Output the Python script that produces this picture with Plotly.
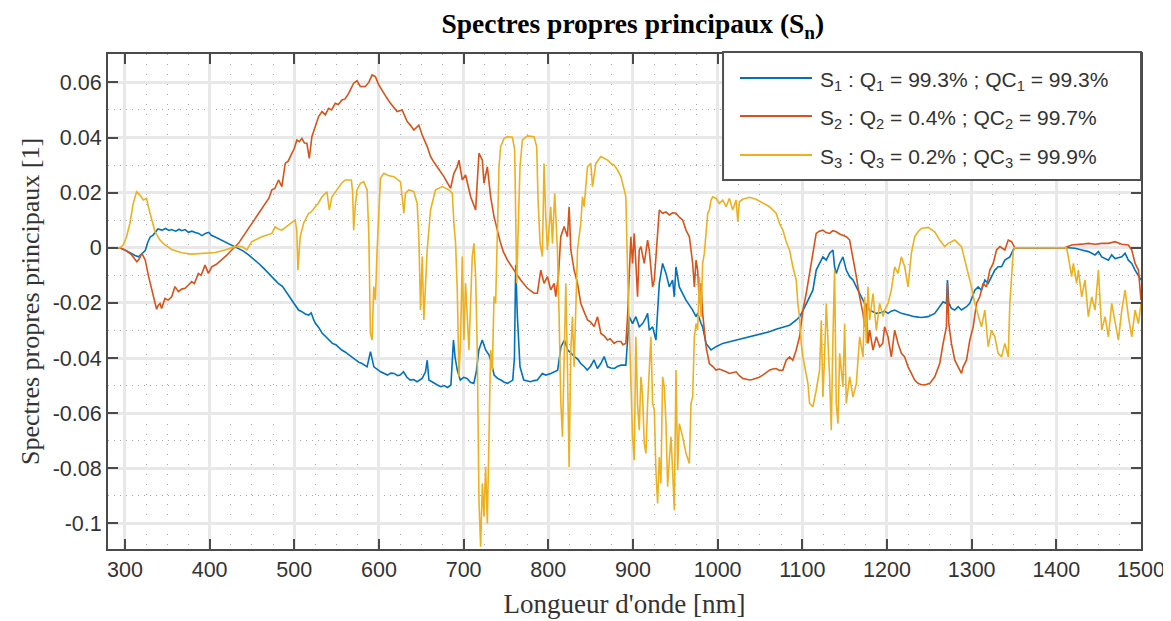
import plotly.graph_objects as go

# ---------------- data ----------------
TITLE = "Spectres propres principaux (S<sub>n</sub>)"
X_LABEL = "Longueur d'onde [nm]"
Y_LABEL = "Spectres propres principaux [1]"

LEGEND_NAMES = [
    "S<sub>1</sub> : Q<sub>1</sub> = 99.3% ; QC<sub>1</sub> = 99.3%",
    "S<sub>2</sub> : Q<sub>2</sub> = 0.4% ; QC<sub>2</sub> = 99.7%",
    "S<sub>3</sub> : Q<sub>3</sub> = 0.2% ; QC<sub>3</sub> = 99.9%",
]

X_TICKS = [300, 400, 500, 600, 700, 800, 900, 1000, 1100, 1200, 1300, 1400, 1500]
Y_TICK_VALUES = [-0.1, -0.08, -0.06, -0.04, -0.02, 0, 0.02, 0.04, 0.06]
Y_TICK_TEXT = ["-0.1", "-0.08", "-0.06", "-0.04", "-0.02", "0", "0.02", "0.04", "0.06"]

# S1 (wavelength nm, value)
S1_POINTS = [
    (280, 0), (294, 0), (300, -0.0008), (308, -0.0023), (312, -0.0028), (316, -0.0033), (320, -0.0022),
    (324, -0.0010), (327, 0.0020), (330, 0.0040), (333, 0.0045), (336, 0.0058), (339, 0.0068), (344, 0.0064),
    (348, 0.0070), (352, 0.0063), (355, 0.0066), (360, 0.0060), (364, 0.0067), (367, 0.0062), (371, 0.0066),
    (375, 0.0056), (379, 0.0060), (383, 0.0055), (387, 0.0052), (391, 0.0044), (395, 0.0052), (399, 0.0056),
    (402, 0.0045), (406, 0.0040), (410, 0.0034), (414, 0.0028), (420, 0.0018), (426, 0.0010), (430, 0.0004),
    (434, -0.0002), (440, -0.0012), (446, -0.0026), (452, -0.0040), (458, -0.0057), (464, -0.0075),
    (470, -0.0093), (476, -0.0112), (481, -0.0129), (486, -0.0140), (489, -0.0153), (493, -0.0170),
    (497, -0.0190), (501, -0.0208), (505, -0.0226), (509, -0.0232), (513, -0.0240), (517, -0.0244),
    (520, -0.0236), (523, -0.0262), (525, -0.0274), (529, -0.0290), (533, -0.0310), (537, -0.0322),
    (541, -0.0336), (545, -0.0347), (549, -0.0352), (553, -0.0364), (556, -0.0371), (560, -0.0378),
    (564, -0.0388), (568, -0.0395), (572, -0.0405), (576, -0.0415), (580, -0.0420), (586, -0.0432),
    (590, -0.0377), (594, -0.0432), (602, -0.0450), (610, -0.0462), (614, -0.0455), (618, -0.0456),
    (622, -0.0464), (625, -0.0462), (629, -0.0450), (633, -0.0470), (637, -0.0480), (641, -0.0478),
    (645, -0.0486), (651, -0.0474), (655, -0.0450), (657, -0.0408), (659, -0.0480), (665, -0.0492),
    (669, -0.0498), (673, -0.0504), (677, -0.0500), (681, -0.0507), (685, -0.0498), (688, -0.0335),
    (690, -0.0400), (692.5, -0.0444), (696, -0.0480), (700, -0.0470), (704, -0.0474), (708, -0.0488),
    (712, -0.0492), (715, -0.0450), (718, -0.0371), (722, -0.0335), (726, -0.0371), (730, -0.0389),
    (733, -0.0420), (736, -0.0462), (740, -0.0474), (744, -0.0480), (748, -0.0488), (752, -0.0492),
    (758, -0.0480), (760, -0.0400), (761.5, -0.0062), (763.5, -0.0250), (766.6, -0.0432), (771, -0.0480),
    (775, -0.0484), (779, -0.0486), (783, -0.0482), (787, -0.0480), (793, -0.0456), (797, -0.0462),
    (803, -0.0456), (807, -0.0450), (811, -0.0444), (815, -0.0359), (819, -0.0335), (823, -0.0371),
    (827, -0.0385), (831, -0.0395), (835, -0.0405), (838, -0.0419), (842, -0.0430), (846, -0.0444),
    (850, -0.0430), (854, -0.0407), (858, -0.0438), (862, -0.0420), (866, -0.0395), (870, -0.0432),
    (874, -0.0436), (878, -0.0438), (882, -0.0430), (886, -0.0426), (891.6, -0.0426), (893.6, -0.0347),
    (895.6, -0.0250), (899.5, -0.0275), (903.4, -0.0250), (907.4, -0.0287), (911.4, -0.0275),
    (915, -0.0255), (917.3, -0.0238), (919.2, -0.0299), (923.2, -0.0287), (927.1, -0.0335), (929.1, -0.0250),
    (931.1, -0.0129), (935, -0.0057), (939, -0.0093), (942.9, -0.0142), (946.8, -0.0117), (948.8, -0.0178),
    (950.8, -0.0069), (954.7, -0.0142), (958.7, -0.0166), (962.6, -0.0190), (966.6, -0.0208),
    (970.5, -0.0226), (974.5, -0.0250), (976.4, -0.0238), (980.4, -0.0275), (982.3, -0.0287),
    (986.3, -0.0347), (992.2, -0.0371), (998.1, -0.0359), (1006, -0.0347), (1014, -0.0341), (1022, -0.0335),
    (1030, -0.0329), (1038, -0.0323), (1045, -0.0317), (1053, -0.0311), (1061, -0.0305), (1069, -0.0296),
    (1077, -0.0289), (1085, -0.0281), (1093, -0.0262), (1097, -0.0250), (1101, -0.0226), (1105, -0.0202),
    (1109, -0.0178), (1112.5, -0.0154), (1116.4, -0.0081), (1120.4, -0.0057), (1124.3, -0.0033),
    (1128.3, -0.0045), (1132.2, -0.0020), (1136.2, -0.0008), (1138.1, -0.0069), (1140.1, -0.0093),
    (1144.1, -0.0057), (1148, -0.0033), (1151.9, -0.0081), (1155.9, -0.0105), (1159.8, -0.0117),
    (1163.8, -0.0142), (1167.7, -0.0166), (1171.7, -0.0190), (1175.6, -0.0214), (1179.5, -0.0226),
    (1187.4, -0.0238), (1193, -0.0235), (1197, -0.0230), (1201.2, -0.0238), (1205, -0.0230),
    (1209.1, -0.0226), (1213, -0.0232), (1217, -0.0238), (1224.9, -0.0244), (1232.7, -0.0250),
    (1240.6, -0.0253), (1248.5, -0.0250), (1256.4, -0.0238), (1262.3, -0.0214), (1266.3, -0.0196),
    (1270.2, -0.0202), (1271.4, -0.0117), (1273, -0.0202), (1276.1, -0.0220), (1280.1, -0.0226),
    (1284, -0.0214), (1288, -0.0226), (1293.9, -0.0214), (1297.8, -0.0202), (1303.7, -0.0154),
    (1307.7, -0.0142), (1311.6, -0.0154), (1315.6, -0.0117), (1319.5, -0.0129), (1323.5, -0.0105),
    (1327.4, -0.0081), (1331.3, -0.0069), (1335.3, -0.0069), (1339.2, -0.0045), (1345.1, -0.0033),
    (1349.1, -0.0008), (1351, 0), (1414, 0), (1422, -0.0002), (1430, -0.0008), (1438, -0.0014),
    (1445.7, -0.0026), (1449.7, -0.0014), (1453.6, -0.0033), (1461.5, -0.0045), (1465.4, -0.0026),
    (1469.4, -0.0039), (1477.3, -0.0033), (1481.2, -0.0020), (1485.1, -0.0045), (1489.1, -0.0057),
    (1493, -0.0081), (1497, -0.0105), (1500, -0.0117),
]

S2_POINTS = [
    (280, 0), (294, 0), (300, -0.0008), (308, -0.0026), (314, -0.0051), (317, -0.0040), (320, -0.0020),
    (324, -0.0045), (328, -0.0105), (331.5, -0.0153), (335.5, -0.0202), (337.4, -0.0223), (339, -0.0210),
    (341.4, -0.0202), (343.3, -0.0220), (347.3, -0.0184), (351, -0.0190), (355.2, -0.0178), (359.1, -0.0141),
    (363.1, -0.0159), (367, -0.0150), (371, -0.0147), (375, -0.0135), (378.8, -0.0123), (382, -0.0130),
    (386.7, -0.0093), (390, -0.0100), (394.6, -0.0063), (398.6, -0.0093), (402.5, -0.0069), (408, -0.0060),
    (414.3, -0.0045), (420, -0.0028), (426.2, -0.0008), (434.1, 0.0016), (442, 0.0052), (449.8, 0.0088),
    (457.7, 0.0125), (465.6, 0.0161), (470, 0.0180), (473.5, 0.0210), (477, 0.0215), (481.4, 0.0246),
    (485.3, 0.0222), (489.3, 0.0306), (493, 0.0315), (497.2, 0.0343), (500, 0.0360), (503.1, 0.0391),
    (506, 0.0385), (509, 0.0397), (512, 0.0380), (514.9, 0.0379), (517.7, 0.0324), (520.8, 0.0403),
    (524, 0.0430), (528.7, 0.0476), (532.7, 0.0494), (536.6, 0.0482), (540.5, 0.0506), (544, 0.0500),
    (548.4, 0.0524), (552, 0.0520), (556.3, 0.0536), (560, 0.0540), (564.2, 0.0560), (567, 0.0575),
    (570.1, 0.0597), (574.1, 0.0606), (578, 0.0585), (583.9, 0.0585), (588, 0.0600), (591.9, 0.0627),
    (595.8, 0.0621), (599.8, 0.0591), (605.7, 0.0560), (609, 0.0545), (613.6, 0.0524), (617, 0.0510),
    (621.5, 0.0494), (627.4, 0.0500), (633.3, 0.0458), (637, 0.0445), (641.2, 0.0427), (647.1, 0.0445),
    (651.1, 0.0409), (657, 0.0367), (660.9, 0.0331), (665, 0.0310), (668.8, 0.0294), (672, 0.0280),
    (676.7, 0.0258), (680, 0.0240), (684.6, 0.0216), (688.5, 0.0270), (692.5, 0.0294), (694.5, 0.0318),
    (698.4, 0.0246), (702.3, 0.0264), (705, 0.0230), (708.3, 0.0185), (714.2, 0.0137), (718.1, 0.0343),
    (722.1, 0.0318), (724, 0.0234), (728, 0.0294), (731.9, 0.0185), (735.9, 0.0113), (739.8, 0.0064),
    (743.7, 0.0016), (747, -0.0015), (751.6, -0.0044), (759.5, -0.0081), (767.4, -0.0117), (775.3, -0.0147),
    (783.2, -0.0165), (787.1, -0.0165), (791.1, -0.0081), (795, -0.0129), (799, -0.0105), (802.9, -0.0153),
    (806.9, -0.0129), (808.8, -0.0177), (812, -0.0100), (814.7, 0.0040), (818.7, 0.0077), (822.6, 0.0040),
    (824.6, 0.0149), (826.6, -0.0008), (830.5, -0.0081), (834.5, -0.0129), (838.4, -0.0202), (842, -0.0230),
    (846.3, -0.0262), (850, -0.0270), (854.2, -0.0286), (858.1, -0.0250), (862.1, -0.0311), (866, -0.0320),
    (869.9, -0.0335), (873, -0.0330), (877.8, -0.0347), (881, -0.0340), (885.7, -0.0340), (888, -0.0352),
    (891.6, -0.0347), (893.6, -0.0250), (895.6, -0.0081), (897.5, 0.0040), (899.5, -0.0057), (901.5, 0.0052),
    (903.4, -0.0057), (905.4, -0.0178), (907.4, -0.0008), (909.4, 0.0004), (913.3, -0.0057), (917.3, 0.0028),
    (919.2, -0.0008), (921.2, -0.0081), (923.2, -0.0142), (925.2, -0.0117), (927.1, -0.0045), (929.1, 0.0040),
    (931.1, 0.0137), (935, 0.0125), (939, 0.0130), (942.9, 0.0119), (947, 0.0127), (950.8, 0.0125),
    (955, 0.0110), (958.7, 0.0101), (962.6, 0.0064), (966.6, 0.0040), (970.5, -0.0057), (972.5, -0.0142),
    (974.5, -0.0045), (976.4, -0.0081), (978.4, -0.0202), (980.4, -0.0129), (982.3, -0.0238),
    (986.3, -0.0359), (990.2, -0.0420), (994, -0.0430), (998.1, -0.0444), (1002, -0.0440), (1006, -0.0444),
    (1010, -0.0450), (1013.9, -0.0456), (1018, -0.0452), (1021.8, -0.0450), (1026, -0.0465),
    (1029.7, -0.0474), (1033, -0.0476), (1037.6, -0.0480), (1041, -0.0478), (1045.4, -0.0474),
    (1049, -0.0470), (1053.3, -0.0462), (1057, -0.0455), (1061.2, -0.0444), (1065, -0.0440),
    (1069.1, -0.0438), (1073, -0.0445), (1077, -0.0444), (1081, -0.0408), (1084.9, -0.0396),
    (1088.8, -0.0408), (1092.8, -0.0371), (1096.7, -0.0323), (1100.7, -0.0226), (1104.6, -0.0166),
    (1108.6, -0.0093), (1112.5, -0.0008), (1116.4, 0.0052), (1120, 0.0060), (1124.3, 0.0064), (1128, 0.0055),
    (1132.2, 0.0052), (1136, 0.0062), (1140.1, 0.0058), (1144, 0.0050), (1148, 0.0046), (1152, 0.0040),
    (1155.9, 0.0028), (1159.8, -0.0033), (1163.8, -0.0105), (1167.7, -0.0178), (1171.7, -0.0238),
    (1173.6, -0.0287), (1175.6, -0.0202), (1177.6, -0.0347), (1179.5, -0.0299), (1183.5, -0.0371),
    (1187.4, -0.0323), (1191.4, -0.0359), (1195, -0.0347), (1197.2, -0.0287), (1201.2, -0.0323),
    (1205.1, -0.0396), (1209.1, -0.0299), (1213, -0.0347), (1217, -0.0383), (1220.9, -0.0396),
    (1224.9, -0.0432), (1228.8, -0.0456), (1232.7, -0.0480), (1236.7, -0.0492), (1240, -0.0496),
    (1244.6, -0.0498), (1250.5, -0.0492), (1256.4, -0.0468), (1262.3, -0.0420), (1266.3, -0.0347),
    (1270.2, -0.0287), (1271.4, -0.0129), (1273, -0.0275), (1276.1, -0.0347), (1280.1, -0.0408),
    (1284, -0.0432), (1288, -0.0456), (1289.9, -0.0432), (1293.9, -0.0408), (1297.8, -0.0335),
    (1301.8, -0.0287), (1305.7, -0.0202), (1309.6, -0.0178), (1313.6, -0.0129), (1317.5, -0.0142),
    (1321.5, -0.0081), (1325.4, -0.0057), (1329.4, -0.0008), (1333.3, 0.0004), (1339.2, -0.0008),
    (1343.2, 0.0028), (1347.1, 0.0022), (1351, 0), (1410, 0), (1418, 0.0010), (1430, 0.0013), (1438, 0.0016),
    (1445.7, 0.0013), (1453.6, 0.0016), (1461.5, 0.0016), (1469.4, 0.0022), (1477.3, 0.0013),
    (1485.1, 0.0010), (1489.1, -0.0008), (1493, -0.0057), (1497, -0.0081), (1499, -0.0142), (1500, -0.0190),
]

S3_POINTS = [
    (280, 0), (294, 0), (298, 0.0010), (301.9, 0.0040), (305.9, 0.0089), (309.8, 0.0161), (313.8, 0.0203),
    (317.7, 0.0191), (321.7, 0.0173), (325.6, 0.0179), (327.6, 0.0149), (331.5, 0.0101), (335.5, 0.0058),
    (341.4, 0.0028), (347.3, 0.0010), (355.2, -0.0006), (367, -0.0018), (378.8, -0.0023), (394.6, -0.0020),
    (406.5, -0.0017), (418.3, -0.0008), (430.1, 0.0004), (438, 0.0004), (443.9, -0.0008), (449.8, 0.0022),
    (455, 0.0030), (461.7, 0.0040), (467, 0.0045), (473.5, 0.0052), (477.4, 0.0076), (481, 0.0068),
    (485.3, 0.0064), (489, 0.0072), (493.2, 0.0083), (497, 0.0090), (501.1, 0.0101), (503, 0.0060),
    (504.3, -0.0081), (507, 0.0040), (511, 0.0089), (516.9, 0.0125), (520, 0.0130), (524.8, 0.0149),
    (528, 0.0160), (532.7, 0.0185), (538.6, 0.0203), (541.3, 0.0137), (544.5, 0.0185), (548, 0.0200),
    (552.4, 0.0222), (556, 0.0235), (560.3, 0.0246), (567.4, 0.0246), (569, 0.0200), (570.1, 0.0064),
    (572, 0.0150), (574.1, 0.0210), (578.1, 0.0234), (582, 0.0240), (586, 0.0210), (588, 0.0052),
    (589.9, -0.0311), (591.9, -0.0335), (593.9, -0.0141), (595.8, -0.0190), (597.8, -0.0008), (601.8, 0.0252),
    (605.7, 0.0270), (611, 0.0262), (617.5, 0.0258), (625.4, 0.0240), (627.4, 0.0185), (629.4, 0.0125),
    (631.3, 0.0198), (635.3, 0.0210), (641.2, 0.0204), (645.1, 0.0161), (647.1, 0.0040), (649.1, -0.0226),
    (651.1, -0.0032), (653, -0.0262), (657, -0.0008), (660.9, 0.0137), (666.8, 0.0210), (674.7, 0.0222),
    (682.6, 0.0210), (686.6, 0.0198), (688.5, 0.0089), (690.5, 0.0016), (692.5, -0.0153), (694.5, -0.0468),
    (696.4, -0.0335), (698.4, -0.0032), (700.4, -0.0335), (702.3, -0.0129), (706.3, -0.0371),
    (710.2, -0.0032), (712.2, 0.0016), (714.2, -0.0105), (716.1, -0.0371), (718.1, -0.0916),
    (720.1, -0.1085), (722.1, -0.0855), (724, -0.0976), (726, -0.0795), (728, -0.1000), (729.9, -0.0613),
    (731.9, -0.0371), (733.9, -0.0444), (735.9, -0.0177), (737.8, -0.0202), (739.8, 0.0052), (741.8, 0.0294),
    (743.7, 0.0367), (747.7, 0.0397), (752, 0.0403), (757.6, 0.0401), (760.3, 0.0355), (761.5, 0.0089),
    (762.7, -0.0129), (764.3, 0.0052), (766.6, 0.0294), (769.4, 0.0391), (775.3, 0.0406), (783.2, 0.0403),
    (786.3, 0.0367), (787.9, 0.0173), (790.3, 0.0016), (793, -0.0032), (795, 0.0306), (797, 0.0113),
    (799, -0.0008), (802.9, 0.0149), (804.9, 0.0016), (807.6, 0.0198), (810.8, -0.0008), (812.8, -0.0250),
    (814.7, -0.0552), (816.7, -0.0686), (818.7, -0.0371), (820.7, -0.0129), (822.6, -0.0432),
    (824.6, -0.0795), (826.6, -0.0371), (828.5, -0.0250), (830.5, -0.0432), (832.5, -0.0190),
    (834.5, -0.0008), (836.4, 0.0040), (838.4, 0.0089), (840.4, 0.0185), (842.3, 0.0149), (846.3, 0.0294),
    (850.2, 0.0306), (852.2, 0.0222), (856.2, 0.0306), (862.1, 0.0331), (866, 0.0325), (870, 0.0318),
    (873.9, 0.0306), (877.8, 0.0300), (881.8, 0.0282), (885.7, 0.0258), (889.7, 0.0210), (891.6, 0.0185),
    (893.6, -0.0081), (895.6, -0.0263), (897.5, -0.0505), (899.5, -0.0686), (901.5, -0.0771),
    (903.4, -0.0323), (905.4, -0.0565), (907.4, -0.0662), (909.4, -0.0468), (911.4, -0.0541),
    (913.3, -0.0710), (915.3, -0.0746), (917.3, -0.0565), (919.2, -0.0420), (921.2, -0.0323),
    (923.2, -0.0565), (925.2, -0.0589), (927.1, -0.0807), (929.1, -0.0928), (931.1, -0.0759),
    (933, -0.0855), (935, -0.0468), (937, -0.0505), (939, -0.0638), (940.9, -0.0867), (942.9, -0.0771),
    (944.9, -0.0686), (946.8, -0.0807), (948.8, -0.0952), (950.8, -0.0444), (952.8, -0.0807),
    (954.7, -0.0638), (958.7, -0.0686), (962.6, -0.0746), (966.6, -0.0783), (968.5, -0.0565),
    (970.5, -0.0541), (972.5, -0.0323), (974.5, -0.0275), (976.4, -0.0299), (978.4, -0.0105),
    (980.4, -0.0250), (982.3, -0.0057), (984.3, -0.0020), (986.3, 0.0040), (988.3, 0.0125), (990.2, 0.0137),
    (992.2, 0.0173), (994.2, 0.0185), (998.1, 0.0179), (1002.1, 0.0161), (1006, 0.0173), (1010, 0.0149),
    (1013.9, 0.0179), (1017.8, 0.0137), (1021.8, 0.0173), (1023.8, 0.0094), (1025.7, 0.0167),
    (1029.7, 0.0176), (1037.6, 0.0183), (1045.4, 0.0176), (1053.3, 0.0161), (1061.2, 0.0149),
    (1069.1, 0.0125), (1073.1, 0.0088), (1077, 0.0064), (1081, 0.0022), (1084.9, -0.0008), (1088.8, -0.0069),
    (1092.8, -0.0117), (1094.7, -0.0202), (1096.7, -0.0250), (1098.7, -0.0347), (1100.7, -0.0396),
    (1104.6, -0.0456), (1106.6, -0.0492), (1108.6, -0.0565), (1112.5, -0.0577), (1116.4, -0.0517),
    (1120.4, -0.0444), (1122.4, -0.0263), (1124.3, -0.0541), (1126.3, -0.0396), (1128.3, -0.0202),
    (1132.2, -0.0468), (1134.2, -0.0662), (1136.2, -0.0323), (1138.1, -0.0081), (1140.1, -0.0565),
    (1142.1, -0.0638), (1144.1, -0.0383), (1148, -0.0505), (1150, -0.0275), (1151.9, -0.0565),
    (1155.9, -0.0468), (1159.8, -0.0541), (1163.8, -0.0493), (1167.7, -0.0323), (1171.7, -0.0396),
    (1173.6, -0.0178), (1175.6, -0.0347), (1177.6, -0.0142), (1179.5, -0.0263), (1183.5, -0.0166),
    (1187.4, -0.0299), (1191.4, -0.0202), (1195.3, -0.0250), (1197.2, -0.0226), (1201.2, -0.0202),
    (1205.1, -0.0154), (1209.1, -0.0069), (1213, -0.0093), (1217, -0.0033), (1220.9, -0.0069),
    (1224.9, -0.0142), (1228.8, -0.0020), (1232.7, 0.0040), (1236.7, 0.0058), (1240.6, 0.0070),
    (1248.5, 0.0074), (1256.4, 0.0058), (1262.3, 0.0028), (1268.2, 0.0004), (1272.2, 0.0016),
    (1276.1, 0.0022), (1280.1, 0.0028), (1284, 0.0016), (1288, 0.0004), (1291.9, -0.0045), (1295.8, -0.0093),
    (1299.8, -0.0142), (1303.7, -0.0202), (1307.7, -0.0250), (1311.6, -0.0287), (1315.6, -0.0226),
    (1317.5, -0.0299), (1319.5, -0.0359), (1323.5, -0.0299), (1327.4, -0.0323), (1331.3, -0.0383),
    (1335.3, -0.0396), (1339.2, -0.0347), (1343.2, -0.0396), (1345.1, -0.0202), (1347.1, -0.0081),
    (1349.1, -0.0014), (1351, 0), (1412, 0), (1414.2, -0.0033), (1418.1, -0.0105), (1420.1, -0.0057),
    (1424, -0.0129), (1426, -0.0081), (1430, -0.0178), (1433.9, -0.0117), (1437.8, -0.0250),
    (1441.8, -0.0178), (1445.7, -0.0226), (1449.7, -0.0081), (1453.6, -0.0299), (1457.6, -0.0250),
    (1461.5, -0.0323), (1465.4, -0.0202), (1469.4, -0.0263), (1473.3, -0.0335), (1477.3, -0.0226),
    (1481.2, -0.0154), (1485.1, -0.0250), (1489.1, -0.0323), (1493, -0.0226), (1497, -0.0275),
    (1500, -0.0202),
]

COLORS = ["#0072BD", "#D95319", "#EDB120"]
X_RANGE = [280, 1500]
Y_RANGE = [-0.1093, 0.0703]

# ---------------- figure ----------------
fig = go.Figure()
for i, pts in enumerate([S1_POINTS, S2_POINTS, S3_POINTS]):
    fig.add_trace(go.Scatter(
        x=[p[0] for p in pts], y=[p[1] for p in pts],
        mode="lines", name=LEGEND_NAMES[i],
        line=dict(color=COLORS[i], width=1.6),
        showlegend=False,
    ))

AX = "#333333"
SANS = "Liberation Sans, Arial, sans-serif"
SERIF = "Liberation Serif, Times New Roman, serif"

common = dict(
    showline=True, linecolor="#4a4a4a", linewidth=2, mirror="ticks",
    ticks="inside", tickcolor="#4a4a4a", tickwidth=1.5, ticklen=10,
    showgrid=True, gridcolor="#e8e8e8", gridwidth=2.5,
    zeroline=False,
    tickfont=dict(family=SANS, size=21.5, color=AX),
)

fig.update_xaxes(
    range=X_RANGE, tickvals=X_TICKS,
    minor=dict(dtick=25, tick0=300, showgrid=True, gridcolor="#a8a8a8", griddash="1px,9px", gridwidth=1, ticks=""),
    title=dict(text=X_LABEL, font=dict(family=SERIF, size=27, color=AX), standoff=13),
    **common,
)
fig.update_yaxes(
    range=Y_RANGE, tickvals=Y_TICK_VALUES, ticktext=Y_TICK_TEXT,
    minor=dict(dtick=0.01, tick0=0, showgrid=True, gridcolor="#a8a8a8", griddash="1px,5px", gridwidth=1, ticks=""),
    title=dict(text=Y_LABEL, font=dict(family=SERIF, size=26, color=AX), standoff=6),
    **common,
)

# legend drawn as a boxed key in the top-right corner of the plot area
LEG_X0, LEG_X1, LEG_Y0, LEG_Y1 = 0.5954, 1.0, 0.7455, 1.004
LEG_LINE_X = (0.6118, 0.6815)
LEG_TEXT_X = 0.6873
LEG_ROWS = [0.9515, 0.8747, 0.7960]

shapes = [dict(type="rect", xref="paper", yref="paper", x0=LEG_X0, x1=LEG_X1, y0=LEG_Y0, y1=LEG_Y1,
               fillcolor="white", line=dict(color="#505050", width=2), layer="above")]
annotations = []
for i, name in enumerate(LEGEND_NAMES):
    shapes.append(dict(type="line", xref="paper", yref="paper", x0=LEG_LINE_X[0], x1=LEG_LINE_X[1],
                       y0=LEG_ROWS[i], y1=LEG_ROWS[i], line=dict(color=COLORS[i], width=2), layer="above"))
    annotations.append(dict(xref="paper", yref="paper", x=LEG_TEXT_X, y=LEG_ROWS[i], text=name,
                            showarrow=False, xanchor="left", yanchor="middle", yshift=-3,
                            font=dict(family=SANS, size=21, color=AX)))

fig.update_layout(
    width=1171, height=621,
    margin=dict(l=100, r=38, t=46, b=80, autoexpand=False),
    paper_bgcolor="white", plot_bgcolor="white",
    title=dict(text="<b>" + TITLE + "</b>", x=0.5336, xanchor="center", y=0.975, yanchor="middle",
               font=dict(family=SERIF, size=27.5, color="black")),
    shapes=shapes, annotations=annotations,
    showlegend=False,
)

fig.write_html("out.html")
